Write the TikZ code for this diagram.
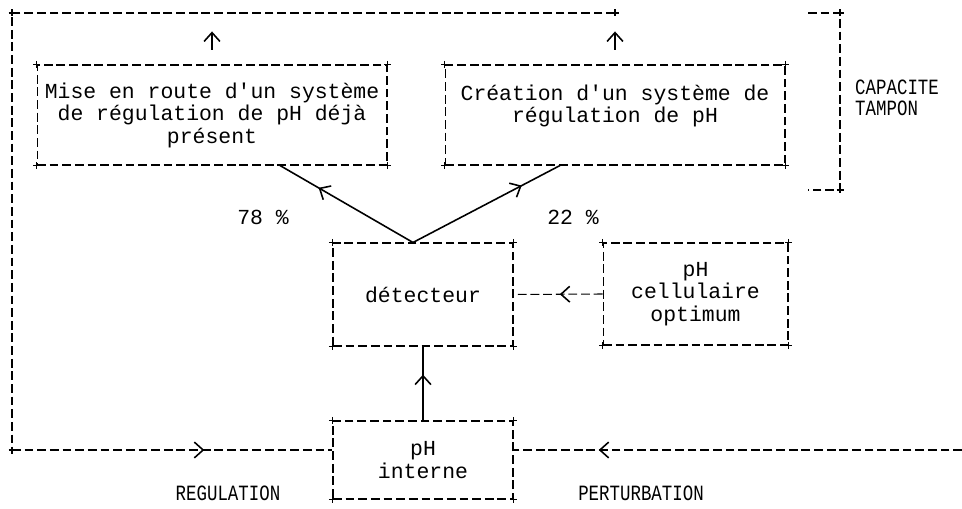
\documentclass[tikz,border=0pt]{standalone}
\usepackage{fontspec}
\newfontfamily\typew{Liberation Mono}
\newfontfamily\typeetroit[FakeStretch=0.8]{Liberation Mono}
\usetikzlibrary{arrows.meta,decorations.markings}

\begin{document}
\begin{tikzpicture}[x=0.02cm,y=-0.02cm,
  every node/.style={font=\typew\fontsize{12.2}{12.8}\selectfont},
  boite/.style={draw, dash pattern=on 5pt off 2.2pt, line width=0.6pt, align=center, inner sep=0pt},
  trait/.style={dash pattern=on 5pt off 2.2pt, line width=0.6pt},
  fleche/.style={line width=0.9pt},
  pointe/.style={postaction={decorate}, decoration={markings,
      mark=at position #1 with {\arrow{Straight Barb[length=5pt,width=9pt,line width=0.9pt]}}}},
  petit/.style={font=\typeetroit\fontsize{12.4}{12.2}\selectfont},
]
\useasboundingbox (0,0) rectangle (962,509);

% === corners of the loop ===
\coordinate (tl) at (12,13);
\coordinate (tr) at (615,13);
\coordinate (bl) at (12,450);
\coordinate (br) at (962,450);
\coordinate (ct) at (840,13);
\coordinate (cb) at (840,190);

% === boxes ===
\node[boite, minimum width=7cm, minimum height=2cm] (demarrage) at (212,115) {Mise en route d'un système\\de régulation de pH déjà\\présent};
\node[boite, minimum width=6.8cm, minimum height=2cm] (creation) at (615,115) {Création d'un système de\\régulation de pH\\~};
\node[boite, minimum width=3.6cm, minimum height=2.06cm] (detecteur) at (423,294.5) {détecteur};
\node[boite, minimum width=3.7cm, minimum height=2.04cm] (optimum) at (695.5,294) {pH\\cellulaire\\optimum};
\node[boite, minimum width=3.6cm, minimum height=1.56cm] (interne) at (423,460) {pH\\interne};

% === labels ===
\node (pc78) at (263,217) {78 \%};
\node (pc22) at (573,217) {22 \%};
\node[petit, anchor=west, align=left] (capacite) at (849,98) {CAPACITE\\TAMPON};
\node[petit] (regulation) at (228,493) {REGULATION};
\node[petit] (perturbation) at (641,493) {PERTURBATION};

% === loop and bracket ===
\draw[trait] (tr) -- (tl) -- (bl);
\draw[trait, pointe=0.6] (bl) -- (bl -| interne.west);
\draw[trait, pointe=0.81] (br) -- (br -| interne.east);
\draw[trait] (808,13) -- (ct) -- (cb) -- (808,190);

% === arrows ===
\draw[fleche, -{Straight Barb[length=5pt,width=9pt]}, shorten <=8.5pt, shorten >=10.5pt] (demarrage.north) -- (demarrage.north |- tl);
\draw[fleche, -{Straight Barb[length=5pt,width=9pt]}, shorten <=8.5pt, shorten >=10.5pt] (creation.north) -- (creation.north |- tr);
\draw[fleche, pointe=0.71] ([xshift=-0.2cm]detecteur.north) -- ([xshift=1.36cm]demarrage.south);
\draw[fleche, pointe=0.74] ([xshift=-0.2cm]detecteur.north) -- ([xshift=-1.1cm]creation.south);
\draw[trait, pointe=0.48] (optimum.west) -- (detecteur.east);
\draw[fleche, pointe=0.62] (interne.north) -- (detecteur.south);

% === typed + marks ===
\foreach \b in {demarrage,creation,detecteur,optimum,interne}
  \foreach \c in {north west,north east,south west,south east}
    \draw[line width=0.6pt] (\b.\c) +(-3.5,0) -- +(3.5,0) +(0,-3.5) -- +(0,3.5);
\foreach \p in {tl,tr,bl,ct,cb}
  \draw[line width=0.6pt] (\p) +(-3.5,0) -- +(3.5,0) +(0,-3.5) -- +(0,3.5);

\end{tikzpicture}
\end{document}
